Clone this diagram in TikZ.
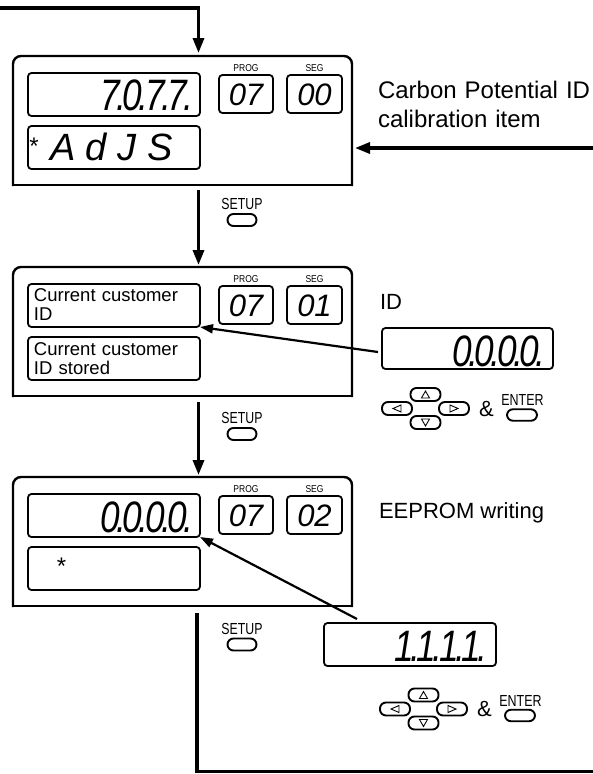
\documentclass[tikz,border=0pt]{standalone}
\usepackage{fontspec}
\setmainfont{Liberation Sans}
\usepackage{graphicx}
\usetikzlibrary{arrows.meta,calc}
\newcommand{\dk}{\kern-4.5pt}
\newcommand{\dsp}[4]{\scalebox{0.8}[1]{\fontsize{44}{44}\selectfont\itshape #1\dk.\dk#2\dk.\dk#3\dk.\dk#4\dk.}}
\newcommand{\cond}[2]{\scalebox{#1}[1]{#2}}
\tikzset{
 panel/.style={rectangle, minimum width=339pt, minimum height=129pt, inner sep=0pt, outer sep=0pt, anchor=north west},
 panelline/.style={line width=2.4pt, line cap=rect},
 dispbox/.style={draw, line width=1.8pt, rounded corners=3.5pt, minimum width=172pt, minimum height=43pt, inner sep=0pt, outer sep=0pt, anchor=north west},
 segbox/.style={draw, line width=1.8pt, rounded corners=3.5pt, minimum width=54pt, minimum height=38pt, inner sep=0pt, outer sep=0pt, anchor=north west},
 keybtn/.style={draw, line width=1.9pt, rounded corners=6pt, minimum width=30pt, minimum height=13pt, inner sep=0pt, outer sep=0pt},
 tri/.style={line width=0.9pt, line join=miter},
 conn/.style={line width=3.3pt, -{Triangle[length=15pt,width=11pt]}},
 loopline/.style={line width=3.3pt},
 diag/.style={line width=2.2pt, -{Triangle[length=13pt,width=9pt]}},
 txt/.style={inner sep=0pt, outer sep=0pt},
}
\newcommand{\mkpanel}[3]{%
 \node[panel] (#1) at (13,#2) {};
 \draw[panelline, rounded corners=8pt] (#1.south west) -- (#1.north west) -- (#1.north east) -- (#1.south east);
 \draw[panelline] (#1.south west) -- (#1.south east);
 \node[dispbox] (#1top) at (28,#2+17) {};
 \node[dispbox] (#1bot) at (28,#2+70) {};
 \node[segbox] (#1prog) at (219,#2+19) {};
 \node[segbox, minimum width=55pt] (#1seg) at (287,#2+19) {};
 \node[txt, anchor=base] (#1progl) at ([yshift=3.5pt]#1prog.north) {\cond{0.85}{\fontsize{10}{10}\selectfont PROG}};
 \node[txt, anchor=base] (#1segl) at ([yshift=3.5pt]#1seg.north) {\cond{0.85}{\fontsize{10}{10}\selectfont SEG}};
 \node[txt, anchor=base] (#1progv) at ([yshift=8pt]#1prog.south) {\fontsize{31}{31}\selectfont\itshape 07};
 \node[txt, anchor=base] (#1segv) at ([yshift=8pt]#1seg.south) {\fontsize{31}{31}\selectfont\itshape #3};
}
\newcommand{\mkkeys}[3]{%
 \node[keybtn] (#1u) at (#2,#3-14) {};
 \node[keybtn] (#1l) at (#2-28.5,#3) {};
 \node[keybtn] (#1r) at (#2+28.5,#3) {};
 \node[keybtn] (#1d) at (#2,#3+14) {};
 \draw[tri] ([yshift=3.5pt]#1u.center) -- ++(-4,7) -- ++(8,0) -- cycle;
 \draw[tri] ([yshift=-3.5pt]#1d.center) -- ++(-4,-7) -- ++(8,0) -- cycle;
 \draw[tri] ([xshift=-4pt]#1l.center) -- ++(8,-3.5) -- ++(0,7) -- cycle;
 \draw[tri] ([xshift=4pt]#1r.center) -- ++(-8,-3.5) -- ++(0,7) -- cycle;
 \node[txt] (#1amp) at (#2+61,#3) {\fontsize{22}{22}\selectfont\&};
 \node[txt] (#1entl) at (#2+97,#3-8.5) {\cond{0.78}{\fontsize{16}{16}\selectfont ENTER}};
 \node[keybtn, minimum height=11.5pt] (#1ent) at (#2+96.5,#3+6.5) {};
}
\newcommand{\mksetup}[2]{%
 \node[txt] (#1l) at (242,#2) {\cond{0.77}{\fontsize{16}{16}\selectfont SETUP}};
 \node[keybtn, minimum width=29pt, minimum height=12pt] (#1b) at (242,#2+16) {};
}
\begin{document}
\begin{tikzpicture}[x=1pt,y=-1pt]
\fill[white] (0,0) rectangle (593,774);
\useasboundingbox (0,0) rectangle (593,774);

\mkpanel{pa}{56}{00}
\mkpanel{pb}{267}{01}
\mkpanel{pc}{477}{02}

% panel contents
\node[txt, anchor=base east] (va) at ([xshift=-7pt,yshift=6pt]patop.south east) {\dsp7077};
\node[txt, anchor=base west] (vaa) at (50,160) {\fontsize{38}{38}\selectfont\itshape A d J S};
\node[txt, anchor=base] (vas) at (34,154) {\fontsize{24}{24}\selectfont *};
\node[txt, anchor=base west, text width=165pt, align=left, font=\fontsize{18.5}{19}\selectfont] (tb1) at (34,301) {Current customer\\ID};
\node[txt, anchor=base west, text width=165pt, align=left, font=\fontsize{18.5}{19}\selectfont] (tb2) at (34,355) {Current customer\\ID stored};
\node[txt, anchor=base east] (vc) at ([xshift=-7pt,yshift=5pt]pctop.south east) {\dsp0000};
\node[txt, anchor=base] (vcs) at (61.5,574) {\fontsize{24}{24}\selectfont *};

% right labels
\node[txt, anchor=base west, text width=214pt, align=left, font=\fontsize{24}{29}\selectfont] (lab1) at (378,98) {Carbon Potential ID\\calibration item};
\node[txt, anchor=base west, font=\fontsize{22}{22}\selectfont] (lab2) at (380,309) {ID};
\node[txt, anchor=base west, font=\fontsize{22}{22}\selectfont] (lab3) at (379,518) {EEPROM writing};

% separate displays
\node[dispbox, minimum width=171pt, minimum height=41pt] (db) at (382,328) {};
\node[txt, anchor=base east] (dbv) at ([xshift=-8pt,yshift=-38.5pt]db.north east) {\dsp0000};
\node[dispbox, minimum height=43pt] (dc) at (324,623) {};
\node[txt, anchor=base east] (dcv) at ([xshift=-9pt,yshift=-38pt]dc.north east) {\dsp1111};

% keys
\mkkeys{ka}{425.5}{408.5}
\mkkeys{kb}{423.5}{709}
\mksetup{sa}{204}
\mksetup{sb}{418}
\mksetup{sc}{628.5}

% connectors
\coordinate (ina) at (0,8);
\draw[conn] (ina) -| ([xshift=185.5pt,yshift=3pt]pa.north west);
\draw[conn] ([xshift=185.5pt,yshift=-5pt]pa.south west) -- ([xshift=185.5pt,yshift=2pt]pb.north west);
\draw[conn] ([xshift=185.5pt,yshift=-6pt]pb.south west) -- ([xshift=185.5pt,yshift=2pt]pc.north west);
\coordinate (outc) at (593,771.5);
\draw[loopline] ([xshift=184pt,yshift=-7pt]pc.south west) |- (outc);
\coordinate (inb) at (593,148);
\draw[conn] (inb) -- ($(pa.east |- inb)+(3,0)$);
\draw[diag] ([xshift=-4pt,yshift=-3.5pt]db.west) -- (pbtop.south east);
\draw[diag] ([xshift=33pt,yshift=4pt]dc.north west) -- (pctop.south east);
\end{tikzpicture}
\end{document}
